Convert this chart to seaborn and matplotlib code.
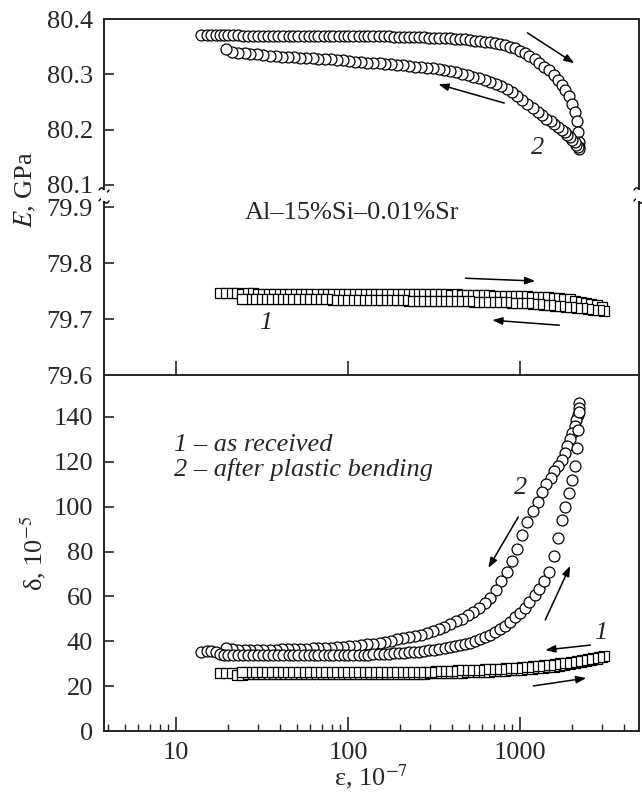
import numpy as np
import matplotlib
matplotlib.use("Agg")
import matplotlib.pyplot as plt
from matplotlib.lines import Line2D
from matplotlib.patches import Rectangle
from matplotlib.ticker import FixedLocator, LogLocator, NullFormatter, NullLocator
import seaborn as sns

# curve 2 (after plastic bending), increasing strain amplitude
eps2_up = [14, 15, 16, 17, 18, 19, 20,
           21.5, 23, 24.5, 26, 28, 30, 32, 34, 36.5, 39,
           42, 45, 48, 51, 55, 59, 63, 67, 72, 77,
           82, 88, 94, 100, 107, 115, 123, 131, 140, 150,
           161, 172, 184, 197, 211, 226, 242, 259, 277, 296,
           317, 339, 363, 388, 415, 444, 475, 508, 543, 581,
           622, 665, 712, 761, 814, 870, 930, 995, 1060, 1130,
           1210, 1290, 1380, 1470, 1560, 1650, 1740, 1830, 1920, 2000,
           2070, 2130, 2180, 2200]
E2_up = [80.371, 80.371, 80.371, 80.371, 80.371, 80.371, 80.371,
         80.371, 80.371, 80.370, 80.370, 80.370, 80.370, 80.370, 80.370, 80.370, 80.370,
         80.370, 80.370, 80.370, 80.370, 80.370, 80.370, 80.370, 80.370, 80.370, 80.370,
         80.369, 80.369, 80.369, 80.369, 80.369, 80.369, 80.369, 80.369, 80.369, 80.369,
         80.369, 80.369, 80.368, 80.368, 80.368, 80.368, 80.367, 80.367, 80.367, 80.366,
         80.366, 80.366, 80.365, 80.365, 80.364, 80.364, 80.363, 80.362, 80.361, 80.360,
         80.359, 80.358, 80.357, 80.355, 80.353, 80.350, 80.347, 80.343, 80.338, 80.333,
         80.327, 80.320, 80.313, 80.307, 80.299, 80.290, 80.281, 80.271, 80.260, 80.247,
         80.232, 80.215, 80.196, 80.178]
d2_up = [35, 35.5, 35.5, 35, 34.5, 34, 34,
         34, 34, 34, 34, 34, 34, 34, 34, 34, 34,
         34, 34, 34, 34, 34, 34, 34, 34, 34, 34,
         34, 34, 34, 34, 34, 34, 34, 34, 34.2, 34.3,
         34.4, 34.5, 34.6, 34.7, 34.8, 35, 35.2, 35.4, 35.7, 36,
         36.2, 36.5, 36.9, 37.3, 37.8, 38.3, 38.8, 39.4, 40.1, 41,
         41.8, 42.8, 44, 45.4, 47, 48.8, 50.8, 52.8, 55, 57.5,
         60.5, 63.5, 67, 71, 78, 86, 94, 100, 106, 112,
         118, 126, 134, 142]

# curve 2, decreasing strain amplitude
eps2_down = [2200, 2190, 2160, 2120, 2070, 2010, 1950, 1880, 1810, 1740,
             1660, 1580, 1500, 1420, 1340, 1260, 1180, 1100, 1030, 960,
             895, 835, 775, 720, 668, 620, 575, 533, 494, 457,
             423, 391, 362, 335, 310, 287, 265, 245, 226, 209,
             193, 178, 164, 152, 140, 129, 119, 110, 101, 93,
             86, 79, 73, 67, 62, 57, 52.5, 48.5, 44.5, 41,
             38, 35, 32, 29.5, 27, 25, 23, 21.2, 19.5]
E2_down = [80.168, 80.165, 80.168, 80.172, 80.177, 80.182, 80.186, 80.190, 80.195, 80.200,
           80.205, 80.210, 80.215, 80.220, 80.226, 80.232, 80.240, 80.247, 80.254, 80.261,
           80.268, 80.273, 80.278, 80.282, 80.286, 80.290, 80.293, 80.296, 80.299, 80.301,
           80.304, 80.306, 80.308, 80.309, 80.311, 80.312, 80.313, 80.314, 80.315, 80.316,
           80.317, 80.318, 80.319, 80.320, 80.320, 80.321, 80.322, 80.323, 80.324, 80.325,
           80.326, 80.327, 80.327, 80.328, 80.329, 80.330, 80.330, 80.331, 80.331, 80.332,
           80.333, 80.334, 80.335, 80.336, 80.337, 80.338, 80.339, 80.340, 80.345]
d2_down = [146, 144, 141, 138.5, 136, 133, 130, 127, 124, 121,
           118, 116, 113, 110, 106.5, 102, 98, 93, 87.5, 81,
           76, 71, 67, 63, 59.5, 57, 55, 53, 51.5, 50,
           49, 47.5, 46.5, 45.5, 44.5, 43.5, 43, 42.5, 42, 41.5,
           41, 40.3, 39.8, 39.3, 39, 38.6, 38.3, 38, 37.7, 37.5,
           37.3, 37.1, 37, 36.9, 36.8, 36.7, 36.6, 36.5, 36.5, 36.4,
           36.3, 36.2, 36.2, 36.1, 36.1, 36, 36, 36.5, 37]

# curve 1 (as received), increasing strain amplitude
eps1_up = [18, 19.5, 21, 22.5, 24, 26, 28, 30, 32, 34.5,
           37, 40, 43, 46, 49.5, 53, 57, 61, 66, 71,
           76, 82, 88, 94, 101, 109, 117, 126, 135, 145,
           156, 168, 180, 194, 208, 224, 240, 258, 277, 298,
           320, 344, 370, 397, 427, 459, 493, 530, 570, 612,
           658, 707, 760, 817, 878, 944, 1015, 1090, 1170, 1260,
           1350, 1450, 1560, 1680, 1800, 1940, 2080, 2240, 2400, 2580,
           2780, 3000]
E1_up = [79.746, 79.746, 79.747, 79.746, 79.745, 79.746, 79.746, 79.745, 79.745, 79.745,
         79.745, 79.745, 79.745, 79.745, 79.745, 79.745, 79.745, 79.745, 79.745, 79.745,
         79.745, 79.745, 79.745, 79.745, 79.744, 79.745, 79.745, 79.744, 79.744, 79.744,
         79.744, 79.744, 79.744, 79.744, 79.744, 79.744, 79.744, 79.744, 79.744, 79.744,
         79.744, 79.744, 79.744, 79.743, 79.744, 79.743, 79.743, 79.743, 79.743, 79.743,
         79.743, 79.742, 79.742, 79.742, 79.742, 79.741, 79.741, 79.741, 79.740, 79.740,
         79.739, 79.739, 79.738, 79.737, 79.736, 79.735, 79.733, 79.731, 79.729, 79.727,
         79.725, 79.722]
d1_up = [26, 26, 26, 25, 25, 25.5, 25.5, 25.5, 25.5, 25.5,
         25.5, 25.5, 25.5, 25.5, 25.5, 25.5, 25.5, 25.5, 25.5, 25.5,
         25.5, 25.5, 25.5, 25.5, 25.5, 25.5, 25.5, 25.5, 25.5, 25.5,
         25.5, 25.5, 25.5, 25.5, 25.5, 25.5, 25.5, 25.6, 25.6, 25.7,
         25.7, 25.8, 25.8, 25.9, 26, 26, 26.1, 26.2, 26.3, 26.4,
         26.5, 26.6, 26.7, 26.8, 27, 27.1, 27.3, 27.5, 27.7, 27.9,
         28.1, 28.4, 28.7, 29, 29.3, 29.7, 30.1, 30.6, 31.1, 31.7,
         32.3, 33]

# curve 1, decreasing strain amplitude
eps1_down = [3050, 2850, 2650, 2460, 2290, 2130, 1980, 1840, 1710, 1590,
             1480, 1380, 1280, 1190, 1110, 1030, 960, 893, 830, 772,
             718, 668, 621, 578, 537, 500, 465, 432, 402, 374,
             348, 324, 301, 280, 260, 242, 225, 209, 195, 181,
             168, 157, 146, 135, 126, 117, 109, 101, 94, 87,
             81, 75.5, 70, 65, 60.5, 56.5, 52.5, 49, 45.5, 42,
             39, 36.5, 34, 31.5, 29.5, 27.5, 25.5, 24]
E1_down = [79.715, 79.716, 79.717, 79.718, 79.719, 79.720, 79.721, 79.722, 79.723, 79.724,
           79.725, 79.726, 79.727, 79.727, 79.728, 79.728, 79.729, 79.729, 79.730, 79.730,
           79.730, 79.731, 79.731, 79.731, 79.731, 79.732, 79.732, 79.732, 79.732, 79.732,
           79.732, 79.733, 79.733, 79.733, 79.733, 79.733, 79.733, 79.734, 79.734, 79.734,
           79.734, 79.734, 79.734, 79.734, 79.734, 79.734, 79.734, 79.734, 79.734, 79.734,
           79.734, 79.735, 79.735, 79.735, 79.735, 79.735, 79.735, 79.735, 79.735, 79.735,
           79.736, 79.736, 79.736, 79.736, 79.736, 79.736, 79.735, 79.735]
d1_down = [33.5, 33, 32.5, 32, 31.6, 31.2, 30.8, 30.4, 30.1, 29.8,
           29.5, 29.2, 29, 28.8, 28.6, 28.4, 28.2, 28, 27.9, 27.8,
           27.7, 27.6, 27.5, 27.4, 27.3, 27.2, 27.1, 27, 26.9, 26.8,
           26.7, 26.6, 26.5, 26.4, 26.3, 26.3, 26.3, 26.3, 26.2, 26.2,
           26.2, 26.2, 26.2, 26.2, 26.2, 26.2, 26.2, 26.2, 26.2, 26.2,
           26.2, 26.2, 26.2, 26.2, 26.2, 26.2, 26.2, 26.2, 26.2, 26.2,
           26.2, 26.2, 26.2, 26.2, 26.3, 26.3, 26.4, 26.5]

W_PX, H_PX = 642, 794
FS = 19

sns.set_style("ticks")
plt.rcParams["font.family"] = ["Liberation Serif", "DejaVu Serif"]
plt.rcParams["mathtext.fontset"] = "stix"
plt.rcParams["axes.linewidth"] = 1.4

fig = plt.figure(figsize=(W_PX / 100, H_PX / 100), dpi=100)


def px_axes(top, bottom, left=104, right=639):
    return fig.add_axes([left / W_PX, 1 - bottom / H_PX,
                         (right - left) / W_PX, (bottom - top) / H_PX])


ax_top = px_axes(19, 196)
ax_mid = px_axes(196, 375)
ax_bot = px_axes(375, 731)

circle_kw = dict(marker="o", s=62, color="white", edgecolor="black",
                 linewidth=0.9, legend=False, zorder=3)
square_kw = dict(marker="s", s=50, color="white", edgecolor="black",
                 linewidth=0.9, legend=False, zorder=3)

sns.scatterplot(x=eps2_up, y=E2_up, ax=ax_top, **circle_kw)
sns.scatterplot(x=eps2_down, y=E2_down, ax=ax_top, **circle_kw)
sns.scatterplot(x=eps1_up, y=E1_up, ax=ax_mid, **square_kw)
sns.scatterplot(x=eps1_down, y=E1_down, ax=ax_mid, **square_kw)
sns.scatterplot(x=eps1_up, y=d1_up, ax=ax_bot, **square_kw)
sns.scatterplot(x=eps1_down, y=d1_down, ax=ax_bot, **square_kw)
sns.scatterplot(x=eps2_down, y=d2_down, ax=ax_bot, **circle_kw)
sns.scatterplot(x=eps2_up, y=d2_up, ax=ax_bot, **circle_kw)

for ax in (ax_top, ax_mid, ax_bot):
    ax.set_xscale("log")
    ax.set_xlim(3.8, 4900)
    ax.set_xlabel("")
    ax.set_ylabel("")
    for sp in ax.spines.values():
        sp.set_visible(True)
        sp.set_linewidth(1.4)
    ax.tick_params(axis="y", direction="in", length=7, width=1.2,
                   labelsize=FS, pad=8, right=False)
    ax.tick_params(axis="x", direction="in", top=False)

ax_top.set_ylim(80.080, 80.4)
ax_top.set_yticks([80.1, 80.2, 80.3, 80.4])
ax_top.set_yticklabels(["80.1", "80.2", "80.3", "80.4"])
ax_top.spines["bottom"].set_visible(False)
ax_top.xaxis.set_major_locator(NullLocator())
ax_top.xaxis.set_minor_locator(NullLocator())

ax_mid.set_ylim(79.6, 79.92)
ax_mid.set_yticks([79.6, 79.7, 79.8, 79.9])
ax_mid.set_yticklabels(["79.6", "79.7", "79.8", "79.9"])
ax_mid.spines["top"].set_visible(False)
ax_mid.xaxis.set_major_locator(FixedLocator([10, 100, 1000]))
ax_mid.xaxis.set_minor_locator(NullLocator())
ax_mid.tick_params(axis="x", length=10, width=1.2, labelbottom=False)

ax_bot.set_ylim(0, 158.7)
ax_bot.set_yticks([0, 20, 40, 60, 80, 100, 120, 140])
ax_bot.set_yticklabels(["0", "20", "40", "60", "80", "100", "120", "140"])
ax_bot.xaxis.set_major_locator(FixedLocator([10, 100, 1000]))
ax_bot.set_xticklabels(["10", "100", "1000"])
ax_bot.xaxis.set_minor_locator(LogLocator(base=10, subs=np.arange(2, 10)))
ax_bot.xaxis.set_minor_formatter(NullFormatter())
ax_bot.tick_params(axis="x", which="major", length=10, width=1.2,
                   labelsize=FS, pad=8)
ax_bot.tick_params(axis="x", which="minor", direction="in", length=5, width=1.0)

arrow = dict(arrowstyle="-|>,head_length=0.6,head_width=0.22", color="black",
             lw=1.1, shrinkA=0, shrinkB=0)

# top panel annotations
ax_top.annotate("", xy=(2060, 80.320), xytext=(1100, 80.375), arrowprops=arrow)
ax_top.annotate("", xy=(334, 80.282), xytext=(807, 80.248), arrowprops=arrow)
ax_top.text(1256, 80.167, "2", fontsize=FS, style="italic", ha="center", va="center")

# middle panel annotations
ax_mid.text(105, 79.889, "Al–15%Si–0.01%Sr", fontsize=FS, ha="center", va="center")
ax_mid.text(33.3, 79.693, "1", fontsize=FS, style="italic", ha="center", va="center")
ax_mid.annotate("", xy=(1222, 79.768), xytext=(479, 79.773), arrowprops=arrow)
ax_mid.annotate("", xy=(687, 79.698), xytext=(1686, 79.689), arrowprops=arrow)

# bottom panel annotations
ax_bot.text(9.7, 127.5, "1 – as received", fontsize=FS, style="italic", va="center")
ax_bot.text(9.7, 116.5, "2 – after plastic bending", fontsize=FS, style="italic",
            va="center")
ax_bot.text(1000, 108.3, "2", fontsize=FS, style="italic", ha="center", va="center")
ax_bot.text(2917, 43.7, "1", fontsize=FS, style="italic", ha="center", va="center")
ax_bot.annotate("", xy=(652, 72.7), xytext=(973, 95.4), arrowprops=arrow)
ax_bot.annotate("", xy=(1951, 73.6), xytext=(1397, 49.5), arrowprops=arrow)
ax_bot.annotate("", xy=(1397, 36.1), xytext=(2552, 38.3), arrowprops=arrow)
ax_bot.annotate("", xy=(2420, 23.6), xytext=(1192, 20.1), arrowprops=arrow)

# axis labels
fig.text(25 / W_PX, 1 - 190 / H_PX, "$E$, GPa", fontsize=FS, rotation=90,
         ha="center", va="center")
fig.text(33 / W_PX, 1 - 553 / H_PX, "δ, 10$^{-5}$", fontsize=FS, rotation=90,
         ha="center", va="center")
fig.text(371 / W_PX, 1 - 791 / H_PX, "ε, 10$^{-7}$", fontsize=FS,
         ha="center", va="bottom")


# axis break marks on both vertical spines
def break_mark(x_px, y_px):
    t = np.linspace(0, 1, 25)
    xs = x_px - 5 + 10 * t
    ys = y_px - 2.2 * np.sin(2 * np.pi * t)
    fig.add_artist(Line2D(xs / W_PX, 1 - ys / H_PX, color="black", lw=1.0))


for xb in (104, 639):
    fig.add_artist(Rectangle(((xb - 3) / W_PX, 1 - 201 / H_PX), 6 / W_PX,
                             11 / H_PX, transform=fig.transFigure,
                             facecolor="white", edgecolor="none", zorder=5))
    break_mark(xb, 190)
    break_mark(xb, 201)

fig.savefig("out.png", dpi=100)
